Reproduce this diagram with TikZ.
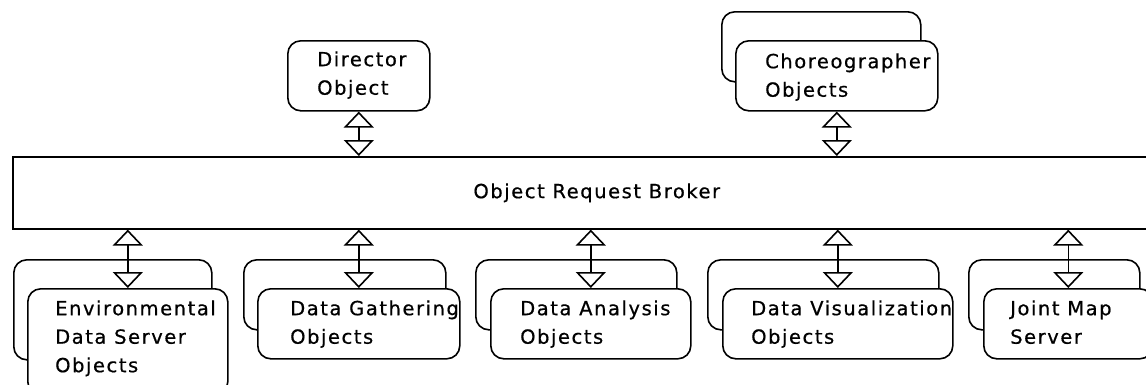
\documentclass[tikz,border=0pt]{standalone}
\usepackage{fontspec}
\setmainfont{DejaVu Sans}[LetterSpace=8,FakeBold=0.6]
\usetikzlibrary{arrows.meta}
\begin{document}
\begin{tikzpicture}[x=1pt,y=-1pt,
  every node/.style={font=\fontsize{19.5}{28.5}\selectfont},
  box/.style={draw, line width=1.6pt, rounded corners=13pt, fill=white, inner sep=0pt, anchor=north west},
  txt/.style={anchor=north west, inner sep=0pt, align=left},
  tri/.tip={Triangle[open,length=16pt,width=30pt]},
  link/.style={line width=1.6pt, tri-tri}
]
\clip (0,0) rectangle (1146,384);
\fill[white] (0,0) rectangle (1146,384);

% broker
\node[draw, line width=1.6pt, minimum width=1168pt, minimum height=72pt, inner sep=0pt, anchor=north west] (orb) at (12,156) {Object Request Broker};

% top boxes
\node[box, minimum width=142pt, minimum height=70pt] (dir) at (287,40) {};
\node[txt] (dirt) at (317,51.2) {Director\\Object};

\node[box, minimum width=199pt, minimum height=70pt] (chorb) at (721,11) {};
\node[box, minimum width=202pt, minimum height=70pt] (chor) at (735,40) {};
\node[txt] (chort) at (765,53.2) {Choreographer\\Objects};

% bottom boxes
\node[box, minimum width=198pt, minimum height=100pt] (envb) at (13,259) {};
\node[box, minimum width=200pt, minimum height=106pt] (env) at (27,288) {};
\node[txt] (envt) at (55,300.2) {Environmental\\Data Server\\Objects};

\node[box, minimum width=202pt, minimum height=70pt] (dgb) at (243,259) {};
\node[box, minimum width=202pt, minimum height=70pt] (dg) at (257,288) {};
\node[txt] (dgt) at (290,300.2) {Data Gathering\\Objects};

\node[box, minimum width=201pt, minimum height=70pt] (dab) at (475,259) {};
\node[box, minimum width=200pt, minimum height=70pt] (da) at (490,288) {};
\node[txt] (dat) at (520,300.2) {Data Analysis\\Objects};

\node[box, minimum width=231pt, minimum height=70pt] (dvb) at (707,259) {};
\node[box, minimum width=230pt, minimum height=70pt] (dv) at (722,288) {};
\node[txt] (dvt) at (751,300.2) {Data Visualization\\Objects};

\node[box, minimum width=171pt, minimum height=70pt] (jmb) at (968,259) {};
\node[box, minimum width=169pt, minimum height=70pt] (jm) at (983,288) {};
\node[txt] (jmt) at (1010,300.2) {Joint Map\\Server};

% connectors
\draw[link] (dir.south) -- (dir.south |- orb.north);
\draw[link] (chor.south) -- (chor.south |- orb.north);
\draw[link] (orb.south -| env.north) -- (env.north);
\draw[link] (orb.south -| dg.north) -- (dg.north);
\draw[link] (orb.south -| da.north) -- (da.north);
\draw[link] (orb.south -| dv.north) -- (dv.north);
\draw[link] (orb.south -| jm.north) -- (jm.north);
\end{tikzpicture}
\end{document}
